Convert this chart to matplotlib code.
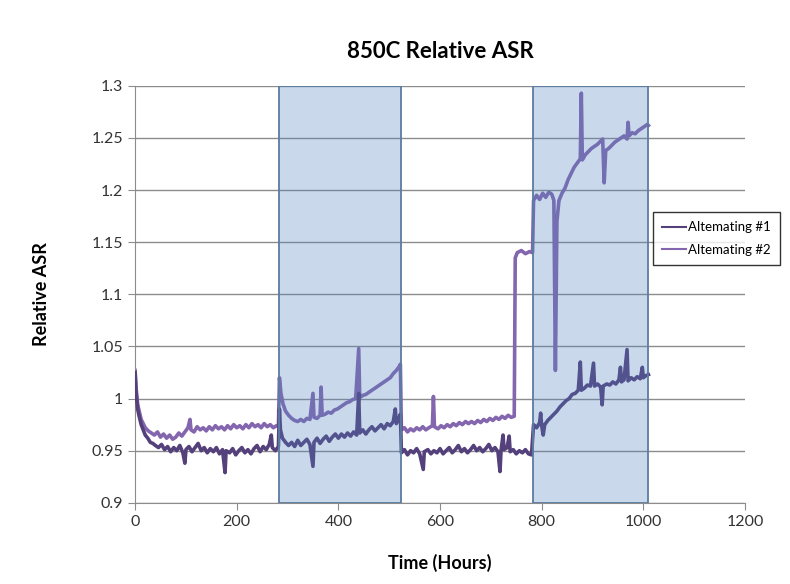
import numpy as np
import matplotlib.pyplot as plt

# hours / relative ASR
alt1 = [
    (0, 1.025), (2, 1.005), (5, 0.99), (8, 0.983), (12, 0.975), (16, 0.97), (20, 0.965),
    (25, 0.962), (30, 0.958), (35, 0.957), (40, 0.955), (46, 0.953), (52, 0.956), (58, 0.951),
    (64, 0.954), (70, 0.949), (76, 0.953), (82, 0.95), (88, 0.955), (94, 0.948), (98, 0.938),
    (100, 0.951), (106, 0.954), (112, 0.949), (118, 0.953), (124, 0.957), (130, 0.95),
    (136, 0.953), (142, 0.948), (148, 0.952), (154, 0.949), (160, 0.953), (166, 0.947),
    (172, 0.951), (177, 0.929), (179, 0.95), (186, 0.948), (192, 0.952), (198, 0.946),
    (204, 0.95), (210, 0.953), (216, 0.948), (222, 0.951), (228, 0.947), (234, 0.952),
    (240, 0.955), (246, 0.949), (252, 0.954), (258, 0.951), (264, 0.956), (268, 0.965),
    (270, 0.953), (276, 0.95), (282, 0.954),
    (284, 0.99), (286, 0.97), (290, 0.962), (296, 0.958), (302, 0.955), (308, 0.958),
    (314, 0.954), (320, 0.96), (326, 0.955), (332, 0.958), (338, 0.961), (344, 0.956),
    (350, 0.935), (352, 0.958), (358, 0.962), (364, 0.957), (370, 0.961), (376, 0.964),
    (382, 0.959), (388, 0.963), (394, 0.966), (400, 0.962), (406, 0.966), (412, 0.963),
    (418, 0.967), (424, 0.964), (430, 0.968), (436, 0.965), (440, 1.005), (442, 0.967),
    (448, 0.97), (454, 0.966), (460, 0.97), (466, 0.973), (472, 0.969), (478, 0.972),
    (484, 0.975), (490, 0.971), (496, 0.976), (502, 0.974), (508, 0.978), (512, 0.99),
    (514, 0.976), (518, 0.98), (522, 0.985),
    (524, 0.948), (530, 0.951), (536, 0.946), (542, 0.95), (548, 0.948), (554, 0.952),
    (560, 0.947), (567, 0.932), (569, 0.949), (576, 0.951), (582, 0.947), (588, 0.95),
    (594, 0.948), (600, 0.952), (606, 0.947), (612, 0.95), (618, 0.953), (624, 0.948),
    (630, 0.951), (636, 0.955), (642, 0.949), (648, 0.952), (654, 0.948), (660, 0.951),
    (666, 0.955), (672, 0.95), (678, 0.953), (684, 0.949), (690, 0.952), (696, 0.956),
    (702, 0.95), (708, 0.953), (714, 0.949), (718, 0.93), (720, 0.95), (724, 0.965),
    (726, 0.951), (732, 0.953), (736, 0.964), (738, 0.949), (744, 0.951), (750, 0.947),
    (756, 0.95), (762, 0.948), (768, 0.951), (774, 0.947), (780, 0.946),
    (784, 0.975), (790, 0.972), (796, 0.977), (798, 0.986), (800, 0.974), (803, 0.965),
    (806, 0.975), (812, 0.979), (818, 0.982), (824, 0.985), (830, 0.988), (836, 0.992),
    (842, 0.995), (848, 0.998), (854, 1.0), (860, 1.004), (866, 1.005), (872, 1.008),
    (876, 1.035), (878, 1.008), (884, 1.01), (890, 1.013), (896, 1.012), (902, 1.034),
    (904, 1.012), (910, 1.014), (916, 1.011), (919, 0.994), (921, 1.012), (928, 1.014),
    (934, 1.013), (940, 1.016), (946, 1.014), (952, 1.018), (955, 1.03), (957, 1.016),
    (962, 1.018), (968, 1.047), (970, 1.017), (976, 1.02), (982, 1.018), (988, 1.021),
    (994, 1.019), (998, 1.03), (1000, 1.02), (1005, 1.022), (1010, 1.023),
]

alt2 = [
    (0, 1.027), (2, 1.01), (5, 0.995), (8, 0.988), (12, 0.98), (16, 0.976), (20, 0.972),
    (26, 0.969), (32, 0.967), (38, 0.965), (44, 0.968), (50, 0.963), (56, 0.966), (62, 0.962),
    (68, 0.965), (74, 0.961), (80, 0.963), (86, 0.967), (92, 0.964), (98, 0.968), (104, 0.972),
    (108, 0.98), (110, 0.97), (116, 0.968), (122, 0.973), (128, 0.97), (134, 0.972),
    (140, 0.969), (146, 0.973), (152, 0.97), (158, 0.974), (164, 0.971), (170, 0.973),
    (176, 0.97), (182, 0.974), (188, 0.971), (194, 0.975), (200, 0.972), (206, 0.974),
    (212, 0.971), (218, 0.975), (224, 0.972), (230, 0.976), (236, 0.973), (242, 0.975),
    (248, 0.972), (254, 0.976), (260, 0.973), (266, 0.975), (272, 0.972), (278, 0.974),
    (282, 0.973),
    (284, 1.02), (287, 1.005), (291, 0.995), (296, 0.988), (302, 0.984), (308, 0.981),
    (314, 0.979), (320, 0.978), (326, 0.98), (332, 0.978), (338, 0.981), (344, 0.98),
    (350, 1.005), (352, 0.982), (358, 0.981), (364, 0.984), (366, 1.011), (368, 0.984),
    (374, 0.985), (380, 0.987), (386, 0.986), (392, 0.989), (398, 0.99), (404, 0.992),
    (410, 0.994), (416, 0.996), (422, 0.997), (428, 0.999), (434, 1.0), (440, 1.048),
    (442, 1.001), (448, 1.003), (454, 1.004), (460, 1.006), (466, 1.008), (472, 1.01),
    (478, 1.012), (484, 1.014), (490, 1.016), (496, 1.018), (502, 1.02), (508, 1.024),
    (514, 1.027), (520, 1.031), (522, 1.033),
    (524, 0.97), (530, 0.972), (536, 0.968), (542, 0.971), (548, 0.969), (554, 0.972),
    (560, 0.97), (566, 0.973), (572, 0.97), (578, 0.972), (585, 0.974), (587, 1.002),
    (589, 0.973), (596, 0.971), (602, 0.974), (608, 0.972), (614, 0.975), (620, 0.973),
    (626, 0.976), (632, 0.974), (638, 0.977), (644, 0.975), (650, 0.978), (656, 0.976),
    (662, 0.978), (668, 0.976), (674, 0.979), (680, 0.977), (686, 0.98), (692, 0.978),
    (698, 0.981), (704, 0.979), (710, 0.982), (716, 0.98), (722, 0.983), (728, 0.981),
    (734, 0.984), (740, 0.982), (746, 0.983), (748, 1.135), (752, 1.14), (760, 1.142),
    (768, 1.139), (776, 1.141), (782, 1.14),
    (784, 1.19), (790, 1.195), (796, 1.191), (802, 1.197), (808, 1.193), (814, 1.198),
    (820, 1.196), (824, 1.19), (827, 1.027), (830, 1.17), (834, 1.19), (840, 1.197),
    (846, 1.202), (852, 1.21), (858, 1.216), (864, 1.222), (870, 1.226), (876, 1.23),
    (878, 1.293), (880, 1.229), (886, 1.234), (892, 1.237), (898, 1.24), (904, 1.242),
    (910, 1.244), (916, 1.247), (920, 1.249), (923, 1.207), (926, 1.238), (932, 1.24),
    (938, 1.243), (944, 1.246), (950, 1.248), (956, 1.25), (962, 1.252), (968, 1.249),
    (970, 1.265), (972, 1.252), (978, 1.255), (984, 1.254), (990, 1.257), (996, 1.259),
    (1002, 1.261), (1008, 1.263), (1010, 1.262),
]

# shaded test windows (hours)
windows = [(283, 523), (783, 1010)]

t1, v1 = np.array(alt1).T
t2, v2 = np.array(alt2).T

plt.rcParams['font.family'] = ['Lato', 'DejaVu Sans']

fig = plt.figure(figsize=(7.9, 5.84), dpi=100)
ax = fig.add_axes([0.171, 0.139, 0.772, 0.714])

ax.plot(t1, v1, color='#54407a', linewidth=2.6, label='Altemating #1', zorder=3)
ax.plot(t2, v2, color='#8466ae', linewidth=2.6, label='Altemating #2', zorder=2)

for a, b in windows:
    ax.axvspan(a, b, facecolor=(0.31, 0.506, 0.74, 0.3), edgecolor='#5b7ca3',
               linewidth=1.3, zorder=4)

ax.set_xlim(0, 1200)
ax.set_ylim(0.9, 1.3)
ax.set_xticks(np.arange(0, 1201, 200))
ax.set_yticks(np.arange(0.9, 1.301, 0.05))
ax.set_yticklabels(['0.9', '0.95', '1', '1.05', '1.1', '1.15', '1.2', '1.25', '1.3'])
ax.yaxis.grid(True, color='#8c8c8c', linewidth=1)
ax.set_axisbelow(True)
for s in ['top', 'right']:
    ax.spines[s].set_visible(False)
for s in ['left', 'bottom']:
    ax.spines[s].set_color('#8c8c8c')
ax.tick_params(colors='#8c8c8c', labelcolor='#333333', labelsize=11.5, length=5)

ax.set_title('850C Relative ASR', fontsize=16, fontweight='bold', pad=20)
ax.set_xlabel('Time (Hours)', fontsize=13, fontweight='bold', labelpad=18)
ax.set_ylabel('Relative ASR', fontsize=13, fontweight='bold', labelpad=30)

leg = fig.legend(loc='upper left', bbox_to_anchor=(0.826, 0.637), fontsize=9.5,
                 frameon=True, fancybox=False, borderpad=0.7, handlelength=1.8,
                 handletextpad=0.2, labelspacing=0.8, borderaxespad=0)
leg.get_frame().set_edgecolor('black')
leg.get_frame().set_linewidth(1)
for h in leg.get_lines():
    h.set_linewidth(1.5)

fig.savefig('out.png', dpi=100)
